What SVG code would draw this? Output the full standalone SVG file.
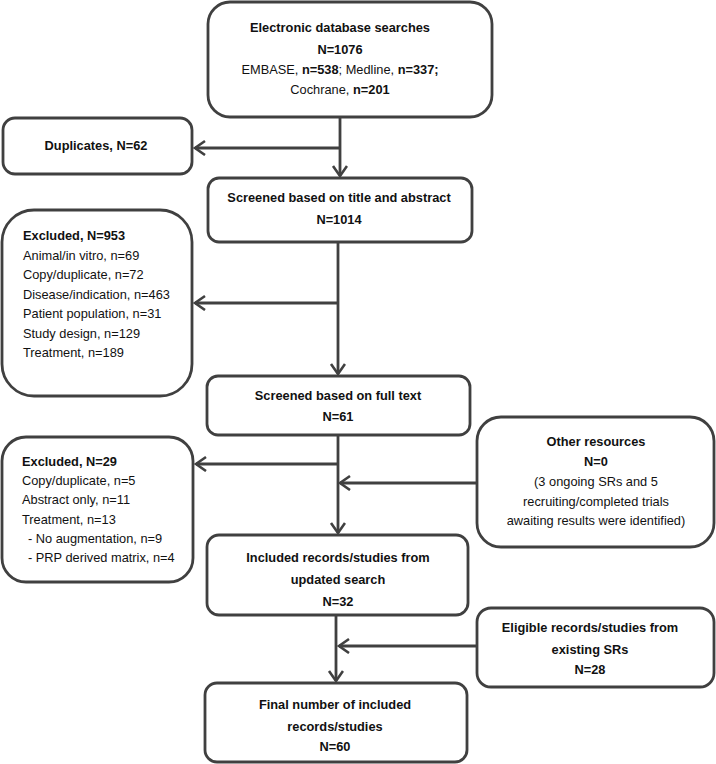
<svg xmlns="http://www.w3.org/2000/svg" width="716" height="764" viewBox="0 0 716 764">
<defs>
<marker id="arr" markerUnits="userSpaceOnUse" markerWidth="14" markerHeight="18" refX="11" refY="8" orient="auto">
<path d="M1,1 L11,8 L1,15" fill="none" stroke="#404040" stroke-width="2.6" stroke-linejoin="miter"/>
</marker>
<style>
.box{fill:#fff;stroke:#404040;stroke-width:2.8}
.c{stroke:#404040;stroke-width:2.8;fill:none}
text{font-family:"Liberation Sans",Arial,sans-serif;font-size:12.8px;fill:#111}
.b{font-weight:bold}
.m{text-anchor:middle}
</style>
</defs>
<rect width="716" height="764" fill="#fff"/>
<g id="connectors">
<line class="c" x1="340" y1="117" x2="340" y2="176" marker-end="url(#arr)"/>
<line class="c" x1="340" y1="148" x2="195" y2="148" marker-end="url(#arr)"/>
<line class="c" x1="338" y1="242" x2="338" y2="374" marker-end="url(#arr)"/>
<line class="c" x1="338" y1="303" x2="195" y2="303" marker-end="url(#arr)"/>
<line class="c" x1="338" y1="435" x2="338" y2="533" marker-end="url(#arr)"/>
<line class="c" x1="338" y1="464" x2="196" y2="464" marker-end="url(#arr)"/>
<line class="c" x1="477" y1="483" x2="340" y2="483" marker-end="url(#arr)"/>
<line class="c" x1="336" y1="615" x2="336" y2="681" marker-end="url(#arr)"/>
<line class="c" x1="477" y1="646" x2="339" y2="646" marker-end="url(#arr)"/>
</g>
<g id="n1">
<rect class="box" x="208" y="2" width="284" height="115" rx="22"/>
<text class="b m" x="340" y="32">Electronic database searches</text>
<text class="b m" x="340" y="54">N=1076</text>
<text class="m" x="340" y="74">EMBASE, <tspan class="b">n=538</tspan>; Medline, <tspan class="b">n=337;</tspan></text>
<text class="m" x="340" y="94">Cochrane, <tspan class="b">n=201</tspan></text>
</g>
<g id="n_dup">
<rect class="box" x="3" y="118" width="189" height="56" rx="12"/>
<text class="b m" x="96" y="150">Duplicates, N=62</text>
</g>
<g id="n2">
<rect class="box" x="208" y="178" width="264" height="64" rx="11"/>
<text class="b m" x="339" y="202">Screened based on title and abstract</text>
<text class="b m" x="339" y="224">N=1014</text>
</g>
<g id="n_ex1">
<rect class="box" x="2" y="210" width="190" height="186" rx="32"/>
<text class="b" x="23" y="240">Excluded, N=953</text>
<text x="23" y="260">Animal/in vitro, n=69</text>
<text x="23" y="279">Copy/duplicate, n=72</text>
<text x="23" y="299">Disease/indication, n=463</text>
<text x="23" y="318">Patient population, n=31</text>
<text x="23" y="338">Study design, n=129</text>
<text x="23" y="357">Treatment, n=189</text>
</g>
<g id="n3">
<rect class="box" x="207" y="376" width="263" height="59" rx="11"/>
<text class="b m" x="338" y="400">Screened based on full text</text>
<text class="b m" x="338" y="421">N=61</text>
</g>
<g id="n_ex2">
<rect class="box" x="2" y="437" width="191" height="145" rx="24"/>
<text class="b" x="22" y="466">Excluded, N=29</text>
<text x="22" y="485">Copy/duplicate, n=5</text>
<text x="22" y="504">Abstract only, n=11</text>
<text x="22" y="524">Treatment, n=13</text>
<text x="28" y="543">- No augmentation, n=9</text>
<text x="28" y="562">- PRP derived matrix, n=4</text>
</g>
<g id="n_other">
<rect class="box" x="477" y="417" width="237" height="130" rx="24"/>
<text class="b m" x="596" y="446">Other resources</text>
<text class="b m" x="596" y="466">N=0</text>
<text class="m" x="596" y="486">(3 ongoing SRs and 5</text>
<text class="m" x="596" y="506">recruiting/completed trials</text>
<text class="m" x="596" y="525">awaiting results were identified)</text>
</g>
<g id="n4">
<rect class="box" x="207" y="535" width="261" height="80" rx="12"/>
<text class="b m" x="338" y="562">Included records/studies from</text>
<text class="b m" x="338" y="584">updated search</text>
<text class="b m" x="338" y="606">N=32</text>
</g>
<g id="n_elig">
<rect class="box" x="477" y="608" width="237" height="79" rx="14"/>
<text class="b m" x="590" y="632">Eligible records/studies from</text>
<text class="b m" x="590" y="654">existing SRs</text>
<text class="b m" x="590" y="674">N=28</text>
</g>
<g id="n5">
<rect class="box" x="205" y="683" width="262" height="79" rx="12"/>
<text class="b m" x="335" y="709">Final number of included</text>
<text class="b m" x="335" y="731">records/studies</text>
<text class="b m" x="335" y="751">N=60</text>
</g>
</svg>
